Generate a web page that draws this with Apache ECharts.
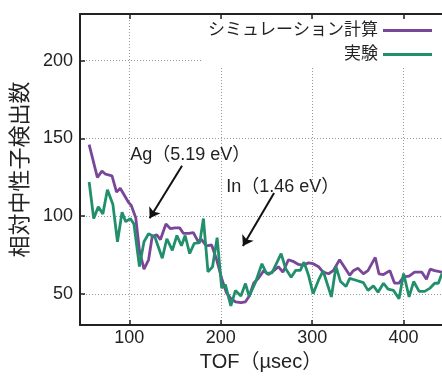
<!DOCTYPE html>
<html><head><meta charset="utf-8">
<script src="https://cdn.jsdelivr.net/npm/echarts@6/dist/echarts.min.js"></script>
<style>html,body{margin:0;padding:0;background:#fff}#c{width:442px;height:377px}</style>
</head><body><div id="c"></div>
<script>
const seriesNames = ['シミュレーション計算', '実験'];
const simTOF = [56,65,70,74,81,86,90,95,99,102,107,111,116,121,125,130,134,140,145,150,155,159,165,170,175,179,184,190,195,201,206,211,216,222,227,231,236,241,247,252,258,263,268,274,279,285,290,296,301,307,312,318,323,330,335,341,345,350,356,361,369,373,378,385,390,395,400,406,412,420,425,429,434,442];
const simCounts = [146,125,129,127,126,115.5,118,113,109,107,99,78,66,72,87,88,85,95,92,92.5,92.5,89,89,89.5,84,85,81,81.5,73,60,51,47,45,44.5,45,48.5,57,60,65,62.5,65,67.5,64,72,71,69,68.5,70,69.5,67.5,64,63,65,72,67.5,62,65,66.5,63,65,73.5,63,62.5,65,57,57,61,61.5,64,64,59.5,66,65,64];
const expTOF = [56,61,66,71,76,82,87,92,96,101,105,111,116,121,128,136,141,147,152,157,161,166,171,177,181,186,191,196,201,205,211,216,222,227,231,238,245,250,256,266,271,277,282,287,291,296,301,307,312,321,326,331,337,341,347,356,361,367,372,378,383,389,395,400,406,411,417,423,429,434,438,442];
const expCounts = [122,98.5,106,101.5,117,107.5,83.6,102.5,96.5,98.5,95,67.7,83.6,88.7,86.5,73,85.5,78,87.6,81,87.6,76,82.6,83,98.5,64.2,67.5,86.2,53.8,56,42.3,52.2,48.7,56.7,48.4,57.6,69.4,63.2,63.6,76,66.3,60.7,65.2,65.2,70.5,62,50.2,59,64.8,48.1,67.7,58,54.8,60,59,57.3,52.3,55.2,51.1,56.9,53.1,52.3,46.9,63.2,48.1,58,51.7,51.7,53.8,56.9,56.9,63.2];
const xTicks = [100, 200, 300, 400];
const yTicks = [50, 100, 150, 200];
const xRange = [46, 442];
const yRange = [30, 230];
const xTitle = 'TOF（µsec）';
const yTitle = '相対中性子検出数';
const annoText = ['Ag（5.19 eV）', 'In（1.46 eV）'];
const annoTextAt = [[101, 139.5], [206, 119]];
const annoFrom = [[157.6, 132.5], [258.3, 115]];
const annoTo = [[122.2, 98.7], [224.2, 80.9]];

const FONT = '"Liberation Sans", "Noto Sans CJK JP", sans-serif';
const INK = '#222';
const colors = ['#7a4699', '#228f6c'];
const zip = (a, b) => a.map((v, i) => [v, b[i]]);
const grid = { type: [1, 2], color: '#999', width: 1 };

const chart = echarts.init(document.getElementById('c'), null, { renderer: 'canvas' });
chart.setOption({
  animation: false,
  backgroundColor: '#fff',
  textStyle: { fontFamily: FONT },
  grid: { left: 80, right: 0, top: 14, bottom: 44 },
  legend: {
    orient: 'vertical', right: 5, top: 17, align: 'right', icon: 'rect',
    itemWidth: 49, itemHeight: 3, itemGap: 7,
    textStyle: { fontSize: 17, color: INK, fontFamily: FONT },
    data: seriesNames, z: 10
  },
  graphic: [{ type: 'rect', shape: { x: 203, y: 19, width: 239, height: 48 }, style: { fill: '#fff' }, z: 3, silent: true }],
  xAxis: [{
    type: 'value', min: xRange[0], max: xRange[1], position: 'bottom',
    name: xTitle, nameLocation: 'middle', nameGap: 23,
    nameTextStyle: { fontSize: 20, color: INK, fontFamily: FONT },
    axisLine: { show: true, onZero: false, lineStyle: { color: INK, width: 2 } },
    axisTick: { show: true, inside: true, length: 5, customValues: xTicks, lineStyle: { color: INK, width: 1.5 } },
    axisLabel: { customValues: xTicks, fontSize: 18, color: INK, margin: 4, fontFamily: FONT },
    splitLine: { show: true, lineStyle: grid }
  }, {
    type: 'value', min: xRange[0], max: xRange[1], position: 'top',
    axisLine: { show: true, onZero: false, lineStyle: { color: INK, width: 2 } },
    axisTick: { show: true, inside: true, length: 5, customValues: xTicks, lineStyle: { color: INK, width: 1.5 } },
    axisLabel: { show: false },
    splitLine: { show: false }
  }],
  yAxis: {
    type: 'value', min: yRange[0], max: yRange[1],
    name: yTitle, nameLocation: 'middle', nameGap: 42,
    nameTextStyle: { fontSize: 22, color: INK, fontFamily: FONT },
    axisLine: { show: true, onZero: false, lineStyle: { color: INK, width: 2 } },
    axisTick: { show: true, inside: true, length: 5, customValues: yTicks, lineStyle: { color: INK, width: 1.5 } },
    axisLabel: { customValues: yTicks, fontSize: 18, color: INK, margin: 7, fontFamily: FONT },
    splitLine: { show: true, lineStyle: grid }
  },
  series: [{
    name: seriesNames[0], type: 'line', data: zip(simTOF, simCounts),
    symbol: 'none', color: colors[0], lineStyle: { width: 2.8, color: colors[0] },
    emphasis: { disabled: true }, z: 2
  }, {
    name: seriesNames[1], type: 'line', data: zip(expTOF, expCounts),
    symbol: 'none', color: colors[1], lineStyle: { width: 2.8, color: colors[1] },
    emphasis: { disabled: true }, z: 3,
    markLine: {
      silent: true, symbol: ['none', 'arrow'], symbolSize: 10, z: 5,
      lineStyle: { color: '#111', width: 2, type: 'solid' },
      label: { show: false },
      data: annoFrom.map((f, i) => [{ coord: f }, { coord: annoTo[i] }])
    },
    markPoint: {
      silent: true, symbol: 'rect', symbolSize: 0, z: 5,
      label: { show: true, position: 'right', distance: 0, fontSize: 18, color: INK, fontFamily: FONT, formatter: p => p.name },
      data: annoText.map((t, i) => ({ name: t, coord: annoTextAt[i] }))
    }
  }]
});
</script></body></html>
